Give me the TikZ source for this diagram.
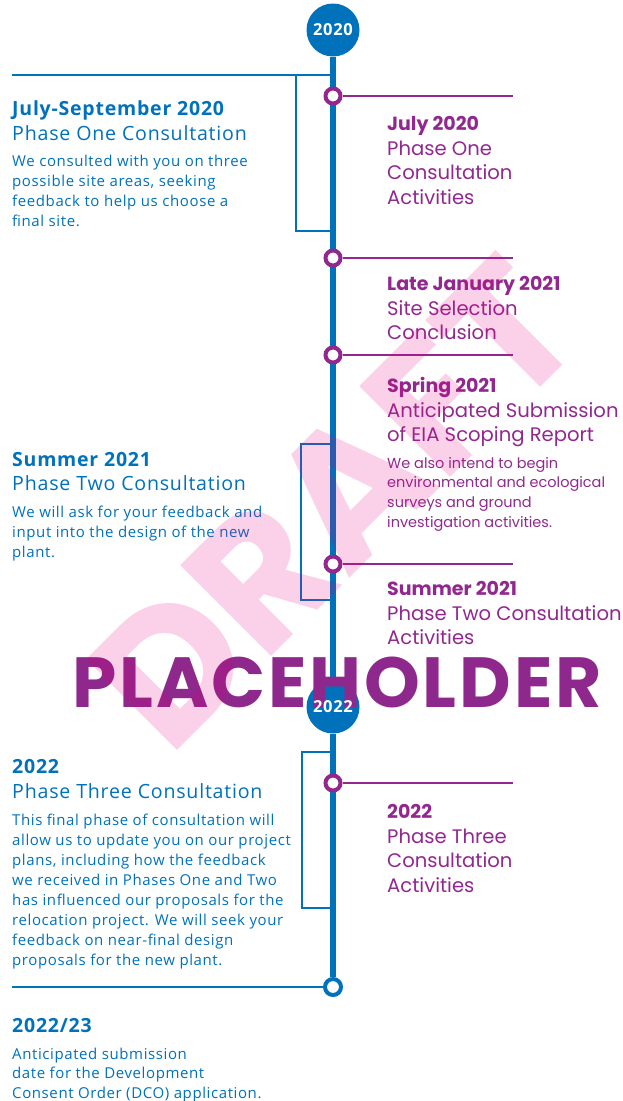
\documentclass[tikz,border=0pt]{standalone}
\usepackage{fontspec}
\setmainfont[LetterSpace=4]{Open Sans}
\newfontfamily\popfont{Poppins}
\newfontfamily\phfont[LetterSpace=4]{Poppins}
\usetikzlibrary{positioning}

\definecolor{tlblue}{HTML}{0071BB}
\definecolor{tlpurple}{HTML}{92278F}
\definecolor{phpurple}{HTML}{8E288C}
\definecolor{draftpink}{HTML}{E6007E}

\newcommand{\tllines}[1]{\begin{tabular}[t]{@{}l@{}}#1\end{tabular}}

\tikzset{
  yearball/.style={circle, fill=tlblue, minimum size=53pt, inner sep=0pt},
  yeartext/.style={text=white, inner sep=0pt, font=\bfseries\fontsize{16.5}{17}\selectfont},
  pdot/.style={circle, draw=tlpurple, line width=4pt, fill=white, minimum size=15pt, inner sep=0pt},
  edot/.style={circle, draw=tlblue, line width=4pt, fill=white, minimum size=16pt, inner sep=0pt},
  mainline/.style={draw=tlblue, line width=5.5pt},
  bracket/.style={draw=tlblue, line width=1.2pt},
  pline/.style={draw=tlpurple, line width=1.2pt},
  bdate/.style={anchor=base west, inner sep=0pt, text=tlblue, font=\bfseries\fontsize{19.5}{24}\selectfont},
  btitle/.style={anchor=base west, inner sep=0pt, text=tlblue, font=\fontsize{19.6}{24}\selectfont},
  bbody/.style={anchor=base west, inner sep=0pt, text=tlblue, font=\fontsize{15}{20}\selectfont},
  pdate/.style={anchor=base west, inner sep=0pt, text=tlpurple, font=\popfont\bfseries\fontsize{19}{24.5}\selectfont},
  ptitle/.style={anchor=base west, inner sep=0pt, text=tlpurple, font=\popfont\fontsize{19.6}{24.5}\selectfont},
  pbody/.style={anchor=base west, inner sep=0pt, text=tlpurple, font=\popfont\fontsize{14.5}{19.7}\selectfont}
}

\begin{document}
\begin{tikzpicture}[x=1pt,y=-1pt]
\useasboundingbox (0,0) rectangle (623,1101);

\node (Y0) [yearball] at (333,30) {};
\node [yeartext] at (Y0) {2020};
\node (Y1) [yearball] at (333,707) {};
\node (E) [edot] at (333,987) {};

%
\draw [mainline] (Y0) -- (Y1);
\draw [mainline] (Y1) -- (E);

%
\coordinate (B1) at (12,75);
\coordinate (B1t) at (333,75);
\coordinate (B1b) at (331,231);
\draw [bracket] (B1) -- (B1t);
\draw [bracket] (296,75) |- (B1b);

\coordinate (B2t) at (331,444);
\coordinate (B2b) at (331,600);
\draw [bracket] (B2t) -| (301,600) -- (B2b);

\coordinate (B3t) at (331,752);
\coordinate (B3b) at (331,908);
\draw [bracket] (B3t) -| (302,908) -- (B3b);

\coordinate (B4) at (12,987);
\draw [bracket] (B4) -- (E);

%
\node (D1) [pdot] at (333,96) {};
\node (D2) [pdot] at (333,258) {};
\node (D3) [pdot] at (333,355) {};
\node (D4) [pdot] at (333,564) {};
\node (D5) [pdot] at (333,783) {};
\foreach \d in {D1,D2,D3,D4,D5}
  \draw [pline] (\d) -- (\d -| 513,0);

%
\node (L1) [bdate] at (12,115) {July-September 2020};
\node (L1t) [btitle] at (12,140) {Phase One Consultation};
\node (L1b) [bbody] at (12,166) {\tllines{We consulted with you on three\\possible site areas, seeking\\feedback to help us choose a\\final site.}};

\node (L2) [bdate] at (12,466) {Summer 2021};
\node (L2t) [btitle] at (12,490) {Phase Two Consultation};
\node (L2b) [bbody] at (12,517) {\tllines{We will ask for your feedback and\\input into the design of the new\\plant.}};

\node (L3) [bdate] at (12,773) {2022};
\node (L3t) [btitle] at (12,798) {Phase Three Consultation};
\node (L3b) [bbody] at (12,825) {\tllines{This final phase of consultation will\\allow us to update you on our project\\plans, including how the feedback\\we received in Phases One and Two\\has influenced our proposals for the\\relocation project. We will seek your\\feedback on near-final design\\proposals for the new plant.}};

\node (L4) [bdate] at (12,1032) {2022/23};
\node (L4b) [bbody, font=\fontsize{15}{19.5}\selectfont] at (12,1059) {\tllines{Anticipated submission\\date for the Development\\Consent Order (DCO) application.}};

%
\node (R1) [pdate] at (387,130) {July 2020};
\node (R1t) [ptitle] at (387,155) {\tllines{Phase One\\Consultation\\Activities}};

\node (R2) [pdate] at (387,290) {Late January 2021};
\node (R2t) [ptitle] at (387,315) {\tllines{Site Selection\\Conclusion}};

\node (R3) [pdate] at (387,392) {Spring 2021};
\node (R3t) [ptitle] at (387,417) {\tllines{Anticipated Submission\\of EIA Scoping Report}};
\node (R3b) [pbody] at (387,468) {\tllines{We also intend to begin\\environmental and ecological\\surveys and ground\\investigation activities.}};

\node (R4) [pdate] at (387,595) {Summer 2021};
\node (R4t) [ptitle] at (387,620) {\tllines{Phase Two Consultation\\Activities}};

\node (R5) [pdate] at (387,818) {2022};
\node (R5t) [ptitle] at (387,843) {\tllines{Phase Three\\Consultation\\Activities}};

%
\node (P) [anchor=base, inner sep=0pt, text=phpurple, font=\phfont\bfseries\fontsize{71}{71}\selectfont] at (337,707) {PLACEHOLDER};
\node [yeartext] at (Y1) {2022};

%
\node (W) [anchor=base west, inner sep=0pt, rotate=45, text=draftpink, text opacity=0.18, font=\popfont\bfseries\fontsize{183}{183}\selectfont] at (169,759) {DRAFT};
\end{tikzpicture}
\end{document}
